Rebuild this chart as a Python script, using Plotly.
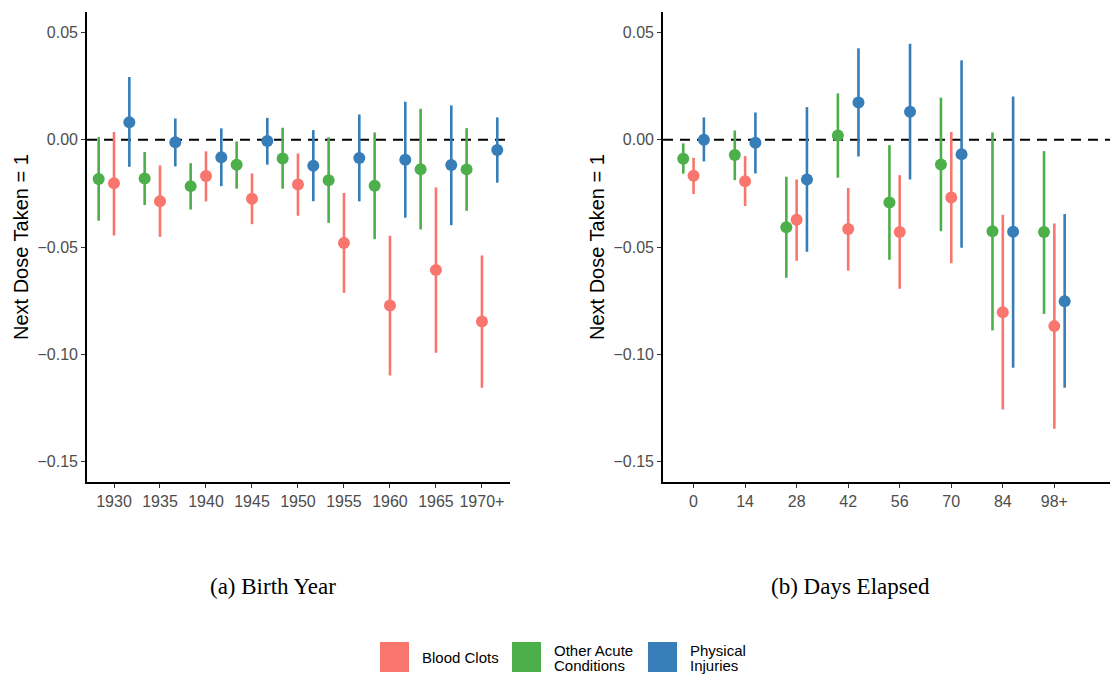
import plotly.graph_objects as go

# Panel (a): birth-year cohorts
birth_labels = ["1930", "1935", "1940", "1945", "1950", "1955", "1960", "1965", "1970+"]
birth_clots_est = [-0.0203, -0.0286, -0.0169, -0.0275, -0.0208, -0.0481, -0.0772, -0.0607, -0.0846]
birth_clots_lo = [-0.0446, -0.0452, -0.0287, -0.0393, -0.0354, -0.0713, -0.1098, -0.0992, -0.1155]
birth_clots_hi = [0.0036, -0.0120, -0.0054, -0.0157, -0.0064, -0.0248, -0.0447, -0.0222, -0.0539]
birth_acute_est = [-0.0183, -0.0180, -0.0216, -0.0116, -0.0087, -0.0189, -0.0214, -0.0137, -0.0138]
birth_acute_lo = [-0.0377, -0.0304, -0.0325, -0.0228, -0.0228, -0.0387, -0.0463, -0.0418, -0.0331]
birth_acute_hi = [0.0012, -0.0057, -0.0109, -0.0008, 0.0056, 0.0011, 0.0034, 0.0144, 0.0054]
birth_injury_est = [0.0082, -0.0012, -0.0081, -0.0006, -0.0121, -0.0085, -0.0093, -0.0118, -0.0048]
birth_injury_lo = [-0.0126, -0.0124, -0.0216, -0.0116, -0.0286, -0.0287, -0.0363, -0.0398, -0.0200]
birth_injury_hi = [0.0292, 0.0099, 0.0053, 0.0102, 0.0045, 0.0118, 0.0177, 0.0160, 0.0104]

# Panel (b): days elapsed since previous dose
days_labels = ["0", "14", "28", "42", "56", "70", "84", "98+"]
days_clots_est = [-0.0168, -0.0193, -0.0373, -0.0416, -0.0430, -0.0269, -0.0803, -0.0868]
days_clots_lo = [-0.0253, -0.0309, -0.0564, -0.0610, -0.0694, -0.0575, -0.1256, -0.1346]
days_clots_hi = [-0.0084, -0.0076, -0.0185, -0.0224, -0.0165, 0.0036, -0.0349, -0.0390]
days_acute_est = [-0.0089, -0.0071, -0.0408, 0.0020, -0.0292, -0.0115, -0.0426, -0.0430]
days_acute_lo = [-0.0158, -0.0188, -0.0643, -0.0177, -0.0559, -0.0426, -0.0888, -0.0811]
days_acute_hi = [-0.0017, 0.0043, -0.0172, 0.0216, -0.0025, 0.0196, 0.0034, -0.0053]
days_injury_est = [0.0000, -0.0014, -0.0185, 0.0174, 0.0130, -0.0067, -0.0429, -0.0752]
days_injury_lo = [-0.0101, -0.0157, -0.0522, -0.0078, -0.0185, -0.0503, -0.1062, -0.1155]
days_injury_hi = [0.0104, 0.0127, 0.0152, 0.0426, 0.0447, 0.0370, 0.0202, -0.0346]

condition_names = ["Blood Clots", "Other Acute Conditions", "Physical Injuries"]
condition_colors = ["#F8766D", "#4DAF4A", "#377EB8"]

fig = go.Figure()


def add_panel(labels, series, dodge, xaxis, yaxis):
    """series: list of (name, color, est, lo, hi, side) with side in -1/0/+1."""
    for name, color, est, lo, hi, side in series:
        xs = [i + side * dodge for i in range(len(labels))]
        fig.add_trace(go.Scatter(
            x=xs, y=est, mode="markers", name=name, showlegend=False,
            marker=dict(color=color, size=12, line=dict(width=0)),
            error_y=dict(type="data", symmetric=False,
                         array=[h - e for h, e in zip(hi, est)],
                         arrayminus=[e - l for e, l in zip(est, lo)],
                         color=color, thickness=2.6, width=0),
            xaxis=xaxis, yaxis=yaxis, cliponaxis=False,
        ))


add_panel(birth_labels, [
    (condition_names[1], condition_colors[1], birth_acute_est, birth_acute_lo, birth_acute_hi, -1),
    (condition_names[0], condition_colors[0], birth_clots_est, birth_clots_lo, birth_clots_hi, 0),
    (condition_names[2], condition_colors[2], birth_injury_est, birth_injury_lo, birth_injury_hi, 1),
], 1 / 3, "x", "y")

add_panel(days_labels, [
    (condition_names[1], condition_colors[1], days_acute_est, days_acute_lo, days_acute_hi, -1),
    (condition_names[0], condition_colors[0], days_clots_est, days_clots_lo, days_clots_hi, 0),
    (condition_names[2], condition_colors[2], days_injury_est, days_injury_lo, days_injury_hi, 1),
], 0.2, "x2", "y2")

W, H = 1110, 675
ydom = [1 - 482 / H, 1 - 12 / H]
yrange = [-0.1594, 0.0595]
tickfont = dict(family="Liberation Sans, Arial, sans-serif", size=16, color="#4d4d4d")

common_y = dict(range=yrange, domain=ydom, tickvals=[0.05, 0.0, -0.05, -0.10, -0.15],
                tickformat=".2f", showgrid=False, zeroline=False, showline=True,
                linecolor="black", linewidth=1.6, ticks="outside", ticklen=4,
                tickcolor="#333333", tickwidth=1.2, tickfont=tickfont)
common_x = dict(showgrid=False, zeroline=False, showline=True, linecolor="black",
                linewidth=1.6, ticks="outside", ticklen=4, tickcolor="#333333",
                tickwidth=1.2, tickfont=tickfont)

fig.update_layout(
    width=W, height=H, margin=dict(l=0, r=0, t=0, b=0),
    paper_bgcolor="white", plot_bgcolor="white", showlegend=False,
    xaxis=dict(domain=[87 / W, 510 / W], range=[-0.587, 8.61],
               tickvals=list(range(len(birth_labels))), ticktext=birth_labels,
               anchor="y", **common_x),
    yaxis=dict(anchor="x", **common_y),
    xaxis2=dict(domain=[663 / W, 1.0], range=[-0.593, 8.08],
                tickvals=list(range(len(days_labels))), ticktext=days_labels,
                anchor="y2", **common_x),
    yaxis2=dict(anchor="x2", **common_y),
)

# Reference line at zero in both panels
for xr, yr in [("x domain", "y"), ("x2 domain", "y2")]:
    fig.add_shape(type="line", xref=xr, yref=yr, x0=0, x1=1, y0=0, y1=0,
                  line=dict(color="black", width=2, dash="10px,7px"), layer="below")

# Axis titles
for xpos in [21, 597]:
    fig.add_annotation(text="Next Dose Taken = 1", xref="paper", yref="paper",
                       x=xpos / W, y=1 - 247 / H, textangle=-90, showarrow=False,
                       xanchor="center", yanchor="middle",
                       font=dict(family="Liberation Sans, Arial, sans-serif", size=20, color="black"))

# Panel captions
for text, xc in [("(a) Birth Year", 273), ("(b) Days Elapsed", 850)]:
    fig.add_annotation(text=text, xref="paper", yref="paper", x=xc / W, y=1 - 586 / H,
                       showarrow=False, xanchor="center", yanchor="middle",
                       font=dict(family="Liberation Serif, Times New Roman, serif", size=23, color="black"))

# Legend drawn as colour keys with labels
legend_font = dict(family="Liberation Sans, Arial, sans-serif", size=15, color="black")
key_left = [380, 512, 648]
text_left = [420, 552, 688]
label_lines = [["Blood Clots"], ["Other Acute", "Conditions"], ["Physical", "Injuries"]]
for color, kx, tx, lines in zip(condition_colors, key_left, text_left, label_lines):
    fig.add_shape(type="rect", xref="paper", yref="paper",
                  x0=kx / W, x1=(kx + 29) / W, y0=1 - 672 / H, y1=1 - 642 / H,
                  fillcolor=color, line=dict(width=0))
    if len(lines) == 1:
        centers = [657]
    else:
        centers = [650, 665]
    for line, yc in zip(lines, centers):
        fig.add_annotation(text=line, xref="paper", yref="paper", x=tx / W, y=1 - yc / H,
                           showarrow=False, xanchor="left", yanchor="middle",
                           font=legend_font)

fig.write_html("out.html")
